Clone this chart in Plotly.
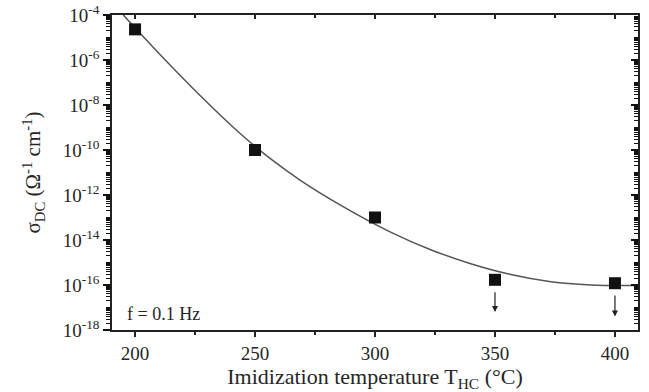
import numpy as np
import plotly.graph_objects as go

# measured points
temps = [200, 250, 300, 350, 400]
sigma = [2.3e-5, 1.0e-10, 1.0e-13, 1.7e-16, 1.2e-16]
# upper-limit arrows (log10 of arrow tail / head) for the last two points
arrow_T = [350, 400]
arrow_head_log = [-17.2, -17.4]
arrow_tail_log = [-16.25, -16.4]

# fitted curve
curve_T = [195.1, 210.4, 227.1, 243.8, 256.4, 268.9, 285.6, 306.5, 323.2, 339.9, 356.6, 373.3, 390.0, 402.5, 409.6]
curve_log = [-4.0, -5.756, -7.578, -9.267, -10.387, -11.347, -12.449, -13.649, -14.431, -15.053,
             -15.533, -15.853, -15.996, -16.022, -16.009]

major_exp = [-4, -6, -8, -10, -12, -14, -16, -18]
x_ticks = [200, 250, 300, 350, 400]
x_minor = [225, 275, 325, 375]

serif = "Liberation Serif"
ink = "#262626"

fig = go.Figure()
fig.add_trace(go.Scatter(x=curve_T, y=[10 ** v for v in curve_log], mode="lines",
                         line=dict(color="#555555", width=1.5, shape="spline", smoothing=1.0),
                         showlegend=False, cliponaxis=True))
fig.add_trace(go.Scatter(x=temps, y=sigma, mode="markers",
                         marker=dict(symbol="square", size=12, color="#111111"),
                         showlegend=False))

for T, h, t in zip(arrow_T, arrow_head_log, arrow_tail_log):
    fig.add_annotation(x=T, y=h, ax=T, ay=t, xref="x", yref="y", axref="x", ayref="y",
                       showarrow=True, arrowhead=2, arrowsize=1, arrowwidth=1.2,
                       arrowcolor="#222222", text="")

fig.add_annotation(x=0.025, y=0.012, xref="paper", yref="paper", xanchor="left", yanchor="bottom",
                   text="f = 0.1 Hz", showarrow=False, font=dict(family=serif, size=18, color=ink))

minor_vals = []
for e in range(-18, -4):
    for m in range(1, 10):
        minor_vals.append(m * 10.0 ** e)

fig.update_layout(
    width=649, height=392,
    margin=dict(l=112, r=11, t=15, b=62),
    plot_bgcolor="white", paper_bgcolor="white",
    font=dict(family=serif, size=18, color=ink),
    xaxis=dict(range=[190.4, 409.6], tickvals=x_ticks, ticks="outside", ticklen=5, tickwidth=1.5,
               tickcolor="#222", showline=True, linecolor="#222", linewidth=1.5, showgrid=False,
               zeroline=False, automargin=False, tickfont=dict(family=serif, size=19, color=ink),
               minor=dict(tickvals=x_minor, ticks="outside", ticklen=3, tickcolor="#222"),
               title=dict(text="Imidization temperature T<sub>HC</sub> (°C)",
                          font=dict(family=serif, size=22, color=ink), standoff=7)),
    yaxis=dict(type="log", range=[-18, -4], tickvals=[10.0 ** e for e in major_exp],
               ticktext=["10<sup>%d</sup>" % e for e in major_exp],
               ticks="outside", ticklen=7, tickwidth=2, tickcolor="#111",
               showline=True, linecolor="#222", linewidth=1.5, showgrid=False, zeroline=False,
               automargin=False, tickfont=dict(family=serif, size=19, color=ink),
               minor=dict(tickvals=minor_vals, ticks="outside", ticklen=4, tickwidth=1.2, tickcolor="#111"),
               title=dict(text="σ<sub>DC</sub> (Ω<sup>-1</sup> cm<sup>-1</sup>)",
                          font=dict(family=serif, size=21, color=ink), standoff=16)),
    xaxis2=dict(overlaying="x", side="top", matches="x", range=[190.4, 409.6], tickvals=x_ticks,
                ticks="inside", ticklen=4, tickwidth=1.5, tickcolor="#222", showticklabels=False,
                showline=True, linecolor="#222", linewidth=1.5, showgrid=False, zeroline=False,
                automargin=False,
                minor=dict(tickvals=x_minor, ticks="inside", ticklen=3, tickcolor="#222")),
    yaxis2=dict(overlaying="y", side="right", type="log", range=[-18, -4],
                tickvals=[10.0 ** e for e in major_exp], ticks="inside", ticklen=7, tickwidth=2,
                tickcolor="#111", showticklabels=False, showline=True, linecolor="#222", linewidth=1.5,
                showgrid=False, zeroline=False, automargin=False,
                minor=dict(tickvals=minor_vals, ticks="inside", ticklen=4, tickwidth=1.2, tickcolor="#111")),
)
# invisible trace to activate the mirror axes
fig.add_trace(go.Scatter(x=[temps[0]], y=[sigma[0]], xaxis="x2", yaxis="y2", mode="markers",
                         marker=dict(opacity=0), showlegend=False, hoverinfo="skip"))

fig.write_html("out.html")
